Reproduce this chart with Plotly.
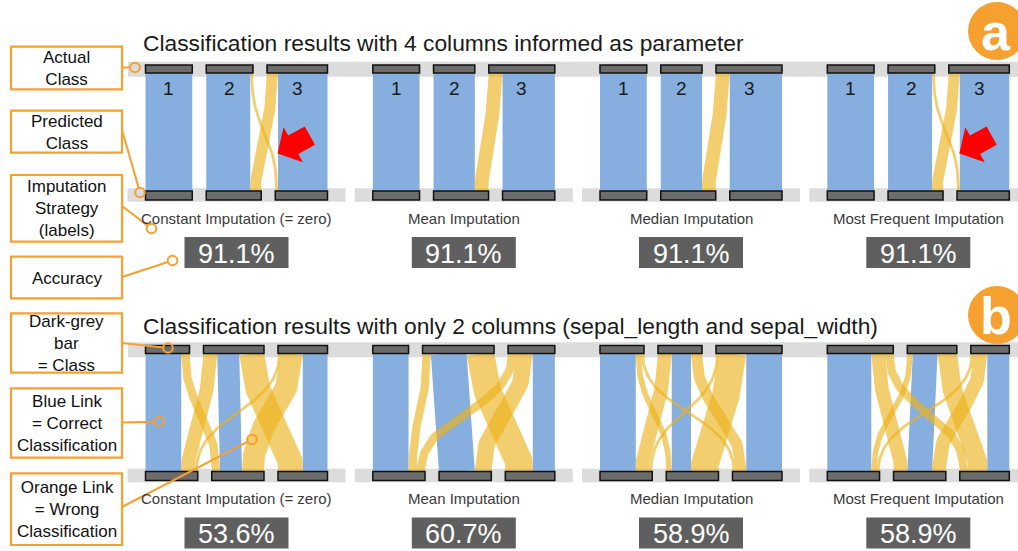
import numpy as np
import plotly.graph_objects as go

W, H = 1018, 551

# ---------------- data ----------------
strategies = ["Constant Imputation (= zero)", "Mean Imputation",
              "Median Imputation", "Most Frequent Imputation"]
classes = ["1", "2", "3"]
row_titles = ["Classification results with 4 columns informed as parameter",
              "Classification results with only 2 columns (sepal_length and sepal_width)"]
row_badges = ["a", "b"]

# confusion matrices: rows = actual class, columns = predicted class
conf_4col_constant = [[17, 0, 0], [0, 16, 1], [0, 4, 18]]
conf_4col_mean = [[17, 0, 0], [0, 15, 0], [0, 5, 19]]
conf_4col_median = [[17, 0, 0], [0, 15, 0], [0, 5, 19]]
conf_4col_mostfreq = [[17, 0, 0], [0, 16, 1], [0, 4, 18]]

conf_2col_constant = [[13, 3, 0], [5, 8, 9], [1, 8, 9]]
conf_2col_mean = [[13, 0, 0], [3, 13, 10], [3, 6, 8]]
conf_2col_median = [[13, 2, 1], [5, 7, 4], [1, 10, 13]]
conf_2col_mostfreq = [[16, 5, 3], [2, 9, 7], [1, 5, 8]]

accuracy_4col = ["91.1%", "91.1%", "91.1%", "91.1%"]
accuracy_2col = ["53.6%", "60.7%", "58.9%", "58.9%"]

legend_texts = ["Actual<br>Class", "Predicted<br>Class",
                "Imputation<br>Strategy<br>(labels)", "Accuracy",
                "Dark-grey<br>bar<br>= Class", "Blue Link<br>= Correct<br>Classification",
                "Orange Link<br>= Wrong<br>Classification"]

rows = [
    {"conf": [conf_4col_constant, conf_4col_mean, conf_4col_median, conf_4col_mostfreq],
     "acc": accuracy_4col, "numbers": True, "arrows": [0, 3]},
    {"conf": [conf_2col_constant, conf_2col_mean, conf_2col_median, conf_2col_mostfreq],
     "acc": accuracy_2col, "numbers": False, "arrows": []},
]

# ---------------- layout / style ----------------
FONT = "Liberation Sans, Arial, sans-serif"
BLUE = "rgb(134,174,222)"
YELLOW = "rgba(236,178,28,0.64)"
BAR = "#6c6c6c"
STRIP = "#dcdcdc"
ORANGE = "#f6a030"
ACCBOX = "#5f5f5f"

panel_left = [145.5, 372.8, 600.0, 827.3]
row_top = [65.0, 345.5]
title_y = [42.5, 325.5]
badge_y = [31.0, 315.0]
PX = 2.75        # pixels per sample
GAP = 14.0       # gap between class bars
LINK_LEN = 118.0
SPAN = PX * 56 + 2 * GAP

fig = go.Figure()
shapes = []
annotations = []


def bezier(x0, x1, y0, y1, n=48):
    t = np.linspace(0, 1, n)
    ym = (y0 + y1) / 2
    x = (1 - t) ** 3 * x0 + 3 * (1 - t) ** 2 * t * x0 + 3 * (1 - t) * t ** 2 * x1 + t ** 3 * x1
    y = (1 - t) ** 3 * y0 + 3 * (1 - t) ** 2 * t * ym + 3 * (1 - t) * t ** 2 * ym + t ** 3 * y1
    return x, y


blue_traces, yellow_traces = [], []

for r, row in enumerate(rows):
    yt = row_top[r]
    y0 = yt + 8
    y1 = y0 + LINK_LEN
    # top strip (continuous)
    shapes.append(dict(type="rect", xref="x", yref="y", x0=128, x1=W + 5, y0=yt - 3.3, y1=yt + 11.7,
                       fillcolor=STRIP, line=dict(width=0), layer="below"))
    for p, conf in enumerate(row["conf"]):
        M = np.array(conf, dtype=float)
        L = panel_left[p]
        top_sizes = M.sum(axis=1)
        bot_sizes = M.sum(axis=0)
        top_x = L + PX * np.concatenate([[0], np.cumsum(top_sizes)[:-1]]) + GAP * np.arange(3)
        bot_x = L + PX * np.concatenate([[0], np.cumsum(bot_sizes)[:-1]]) + GAP * np.arange(3)
        # bottom strip
        shapes.append(dict(type="rect", xref="x", yref="y", x0=L - 18, x1=L + SPAN + 18,
                           y0=y1 - 2.7, y1=y1 + 10.7, fillcolor=STRIP, line=dict(width=0), layer="below"))
        # links
        for i in range(3):
            for j in range(3):
                v = M[i, j]
                if v <= 0:
                    continue
                sx = top_x[i] + PX * M[i, :j].sum() + PX * v / 2
                dx = bot_x[j] + PX * M[:i, j].sum() + PX * v / 2
                xs, ys = bezier(sx, dx, y0, y1)
                tr = go.Scatter(x=xs, y=ys, mode="lines", hoverinfo="skip", showlegend=False,
                                line=dict(color=BLUE if i == j else YELLOW, width=PX * v))
                (blue_traces if i == j else yellow_traces).append(tr)
        # class bars
        for k in range(3):
            shapes.append(dict(type="rect", xref="x", yref="y", x0=top_x[k], x1=top_x[k] + PX * top_sizes[k],
                               y0=yt, y1=yt + 8, fillcolor=BAR, line=dict(color="#111", width=1.5), layer="above"))
            shapes.append(dict(type="rect", xref="x", yref="y", x0=bot_x[k], x1=bot_x[k] + PX * bot_sizes[k],
                               y0=y1, y1=y1 + 9, fillcolor=BAR, line=dict(color="#111", width=1.5), layer="above"))
            if row["numbers"]:
                annotations.append(dict(x=top_x[k] + PX * top_sizes[k] / 2, y=yt + 23, xref="x", yref="y",
                                        text=classes[k], showarrow=False,
                                        font=dict(family=FONT, size=19, color="#1a1a1a")))
        cx = L + SPAN / 2
        annotations.append(dict(x=cx, y=yt + 153, xref="x", yref="y", text=strategies[p], showarrow=False,
                                font=dict(family=FONT, size=15, color="#3a3a3a")))
        shapes.append(dict(type="rect", xref="x", yref="y", x0=cx - 52, x1=cx + 52,
                           y0=yt + 172, y1=yt + 203, fillcolor=ACCBOX, line=dict(width=0), layer="above"))
        annotations.append(dict(x=cx, y=yt + 188.5, xref="x", yref="y", text=row["acc"][p], showarrow=False,
                                font=dict(family=FONT, size=27, color="white")))
        # red arrow pointing at the crossing
        if p in row["arrows"]:
            tip = np.array([L + 132.0, yt + 88.5])
            ang = np.deg2rad(-29)
            u = np.array([np.cos(ang), np.sin(ang)])
            n = np.array([-u[1], u[0]])
            pts = [tip,
                   tip + u * 18 + n * 20, tip + u * 18 + n * 10.5,
                   tip + u * 37 + n * 10.5, tip + u * 37 - n * 10.5,
                   tip + u * 18 - n * 10.5, tip + u * 18 - n * 20, tip]
            pts = np.array(pts)
            yellow_traces.append(go.Scatter(x=pts[:, 0], y=pts[:, 1], mode="lines", fill="toself",
                                            fillcolor="#ff0000", line=dict(width=0, color="#ff0000"),
                                            hoverinfo="skip", showlegend=False))
    # title
    annotations.append(dict(x=141, y=title_y[r], xref="x", yref="y", text=row_titles[r], showarrow=False,
                            xanchor="left", font=dict(family=FONT, size=22.8, color="#1a1a1a")))
    # badge
    shapes.append(dict(type="circle", xref="x", yref="y", x0=968, x1=1026, y0=badge_y[r] - 29,
                       y1=badge_y[r] + 29, fillcolor=ORANGE, line=dict(width=0), layer="above"))
    annotations.append(dict(x=996, y=badge_y[r] + 1, xref="x", yref="y", text="<b>%s</b>" % row_badges[r],
                            showarrow=False, font=dict(family=FONT, size=52, color="white")))

for tr in blue_traces + yellow_traces:
    fig.add_trace(tr)

# ---------------- legend boxes with pointers ----------------
box_y = [(46.7, 89.3), (110.7, 152.7), (175.0, 241.7), (256.7, 298.3),
         (313.3, 372.7), (388.3, 457.7), (473.3, 545.0)]
pointer_start = [67.5, 130.0, 206.0, 277.0, 343.0, 422.5, 507.0]
pointer_end = [(135, 67.5), (140, 192.5), (151.5, 228.5), (172.5, 260.5),
               (168, 348), (159, 421.5), (252, 439.5)]
BX0, BX1 = 11.0, 122.0
RAD = 4.8
for k, txt in enumerate(legend_texts):
    ya, yb = box_y[k]
    shapes.append(dict(type="rect", xref="x", yref="y", x0=BX0, x1=BX1, y0=ya, y1=yb,
                       fillcolor="white", line=dict(color=ORANGE, width=2.2), layer="above"))
    annotations.append(dict(x=(BX0 + BX1) / 2, y=(ya + yb) / 2 + 0.5, xref="x", yref="y", text=txt,
                            showarrow=False, font=dict(family=FONT, size=17, color="#111")))
    sx, sy = BX1, pointer_start[k]
    ex, ey = pointer_end[k]
    d = np.hypot(ex - sx, ey - sy)
    lx, ly = ex - (ex - sx) / d * RAD, ey - (ey - sy) / d * RAD
    shapes.append(dict(type="line", xref="x", yref="y", x0=sx, y0=sy, x1=lx, y1=ly,
                       line=dict(color=ORANGE, width=2), layer="above"))
    shapes.append(dict(type="circle", xref="x", yref="y", x0=ex - RAD, x1=ex + RAD, y0=ey - RAD, y1=ey + RAD,
                       fillcolor="rgba(0,0,0,0)", line=dict(color=ORANGE, width=2), layer="above"))

fig.update_layout(
    width=W, height=H, autosize=False,
    margin=dict(l=0, r=0, t=0, b=0),
    paper_bgcolor="white", plot_bgcolor="white",
    xaxis=dict(range=[0, W], visible=False, fixedrange=True),
    yaxis=dict(range=[H, 0], visible=False, fixedrange=True),
    shapes=shapes, annotations=annotations, showlegend=False,
)

fig.write_html("out.html")
